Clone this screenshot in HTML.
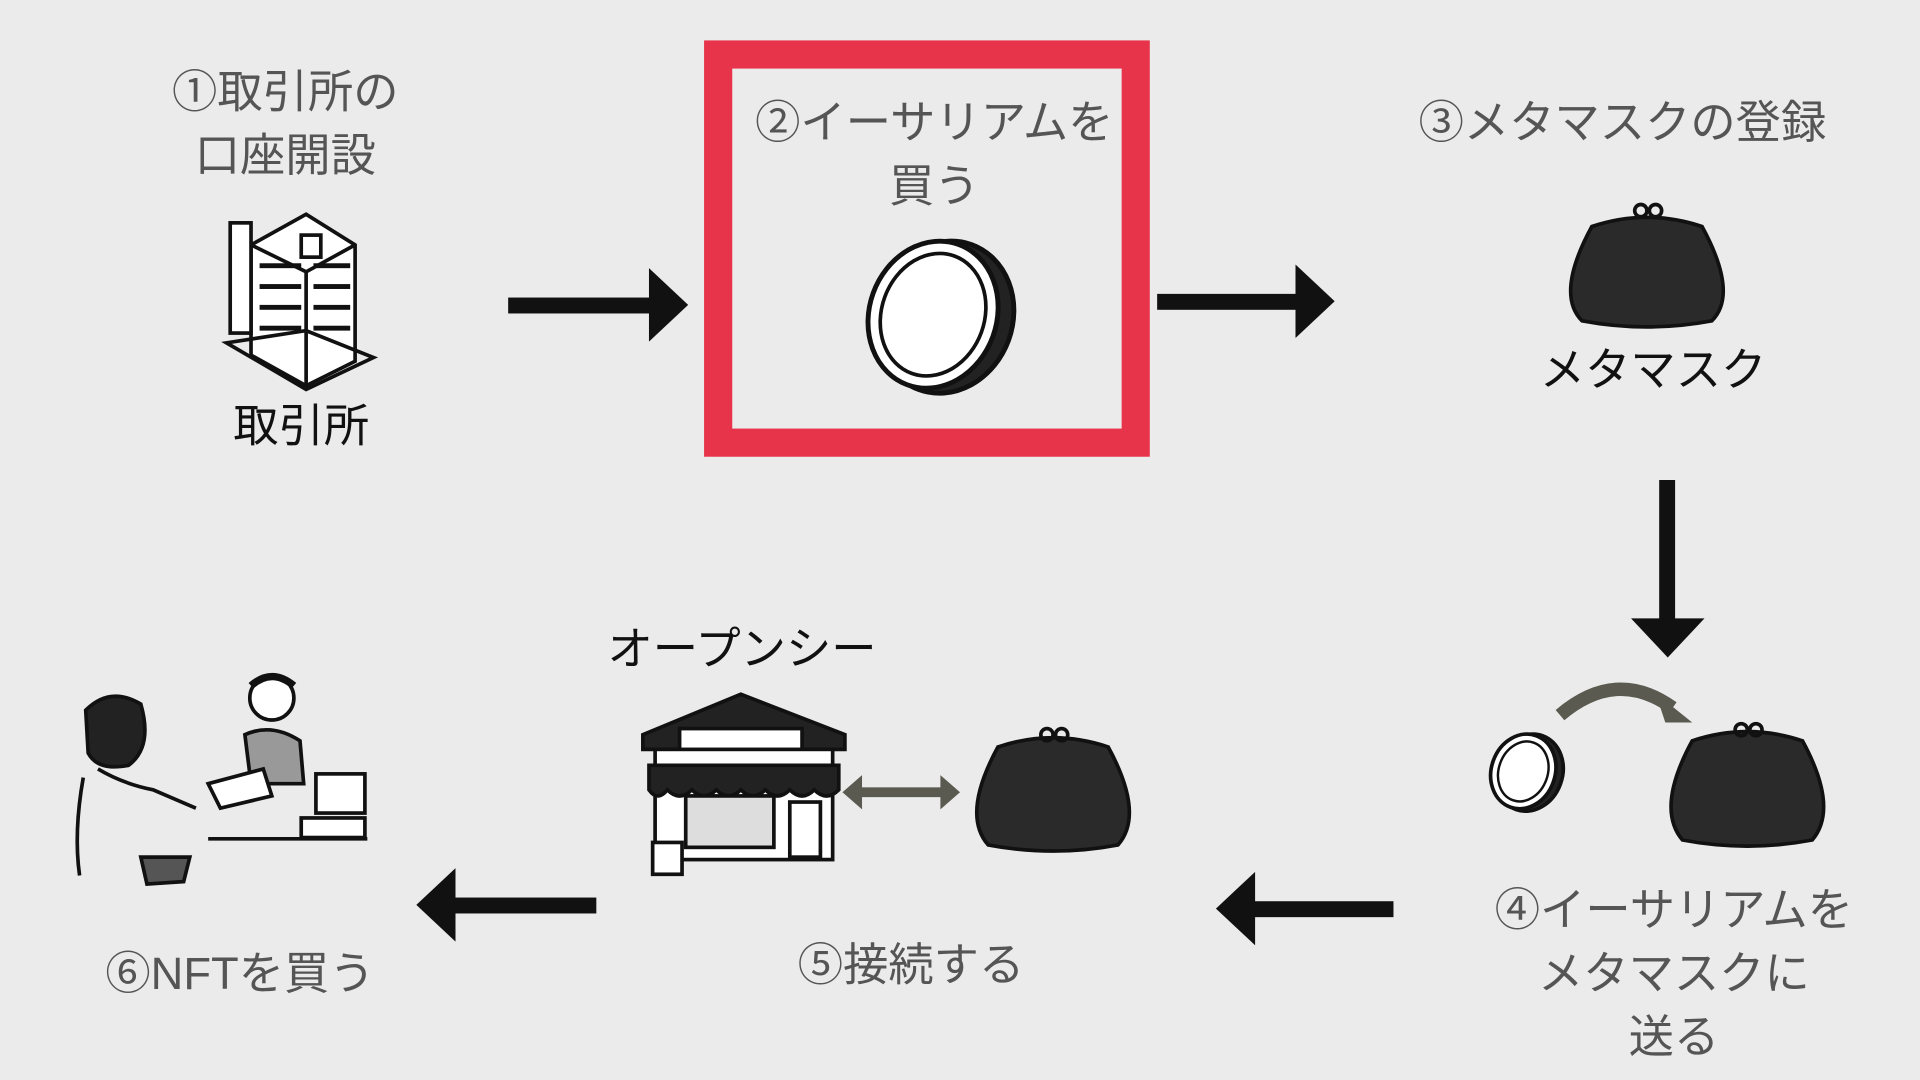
<!DOCTYPE html>
<html><head><meta charset="utf-8">
<style>
html,body{margin:0;padding:0;background:#ebebeb;}
svg{display:block;}
text{font-family:"Liberation Sans","Noto Sans CJK JP",sans-serif;}
.g{fill:#555;font-size:37px;font-weight:normal;}
.b{fill:#111;font-size:37px;font-weight:normal;}
</style></head><body>
<svg width="1920" height="1080" viewBox="0 0 1568 882" xmlns="http://www.w3.org/2000/svg">
<rect width="1568" height="882" fill="#ebebeb"/>
<rect x="586.5" y="44.5" width="341" height="317" fill="none" stroke="#e8344a" stroke-width="23"/>

<g text-anchor="middle" dominant-baseline="central">
<text class="g" x="233" y="75">①取引所の</text>
<text class="g" x="233" y="127">口座開設</text>
<text class="b" x="246" y="348">取引所</text>
<text class="g" x="763" y="100">②イーサリアムを</text>
<text class="g" x="763" y="152">買う</text>
<text class="g" x="1325" y="100">③メタマスクの登録</text>
<text class="b" x="1350" y="302">メタマスク</text>
<text class="b" x="606" y="530">オープンシー</text>
<text class="g" x="744" y="788">⑤接続する</text>
<text class="g" x="196" y="795">⑥NFTを買う</text>
<text class="g" x="1367" y="743">④イーサリアムを</text>
<text class="g" x="1367" y="795">メタマスクに</text>
<text class="g" x="1367" y="847">送る</text>
</g>

<g fill="#111">
<rect x="415" y="243" width="120" height="13"/><polygon points="530,219 562,249 530,279"/>
<rect x="945" y="240" width="118" height="13"/><polygon points="1058,216 1090,246 1058,276"/>
<rect x="1355" y="392" width="13" height="116"/><polygon points="1332,505 1392,505 1362,537"/>
<rect x="1020" y="736" width="118" height="13"/><polygon points="1025,712 993,742 1025,772"/>
<rect x="368" y="733" width="119" height="13"/><polygon points="372,709 340,739 372,769"/>
</g>
<g fill="#5a5a50">
<rect x="700" y="643" width="72" height="8"/>
<polygon points="704,633 688,647 704,661"/><polygon points="768,633 784,647 768,661"/>
</g>
<path d="M1274,584 Q1320,545 1366,578" fill="none" stroke="#5a5a50" stroke-width="11"/>
<polygon points="1352,566 1382,590 1360,590" fill="#5a5a50"/>

<g fill="#fff" stroke="#111" stroke-width="4">
<ellipse cx="772" cy="259" rx="55" ry="63" transform="rotate(20 772 259)" fill="#222"/>
<ellipse cx="762" cy="257" rx="52" ry="61" transform="rotate(20 762 257)"/>
<ellipse cx="762" cy="257" rx="42" ry="51" transform="rotate(20 762 257)" stroke-width="3"/>
</g>
<g fill="#fff" stroke="#111" stroke-width="3">
<ellipse cx="1249" cy="631" rx="27" ry="32" transform="rotate(20 1249 631)" fill="#222"/>
<ellipse cx="1244" cy="630" rx="26" ry="31" transform="rotate(20 1244 630)"/>
<ellipse cx="1244" cy="630" rx="20" ry="25" transform="rotate(20 1244 630)" stroke-width="2"/>
</g>

<g fill="#2a2a2a" stroke="#111" stroke-width="3">
<path d="M1300,185 Q1345,170 1390,185 Q1420,240 1398,262 Q1345,272 1292,262 Q1270,240 1300,185Z"/>
<circle cx="1340" cy="172" r="5" fill="none"/><circle cx="1352" cy="172" r="5" fill="none"/>
<path d="M815,610 Q860,595 905,610 Q935,665 913,690 Q860,700 807,690 Q785,665 815,610Z"/>
<circle cx="855" cy="600" r="5" fill="none"/><circle cx="867" cy="600" r="5" fill="none"/>
<path d="M1382,605 Q1427,590 1472,605 Q1502,660 1480,686 Q1427,696 1374,686 Q1352,660 1382,605Z"/>
<circle cx="1422" cy="596" r="5" fill="none"/><circle cx="1434" cy="596" r="5" fill="none"/>
</g>

<g fill="#fff" stroke="#111" stroke-width="3">
<polygon points="205,200 250,175 290,200 290,295 250,315 205,290"/>
<polyline points="205,200 250,222 290,200" fill="none"/>
<line x1="250" y1="222" x2="250" y2="315"/>
<rect x="188" y="182" width="17" height="90"/>
<polygon points="185,280 250,318 305,292 250,270" fill="none"/>
<rect x="246" y="192" width="16" height="18"/>
</g>
<g fill="#111">
<rect x="212" y="215" width="34" height="4"/><rect x="212" y="232" width="34" height="4"/><rect x="212" y="249" width="34" height="4"/><rect x="212" y="266" width="34" height="4"/>
<rect x="256" y="215" width="30" height="4"/><rect x="256" y="232" width="30" height="4"/><rect x="256" y="249" width="30" height="4"/><rect x="256" y="266" width="30" height="4"/>
</g>

<g fill="#fff" stroke="#111" stroke-width="3">
<polygon points="525,600 605,567 690,600 690,612 525,612" fill="#222"/>
<rect x="555" y="595" width="100" height="18"/>
<rect x="535" y="612" width="145" height="90"/>
<path d="M530,625 L685,625 L685,645 Q675,655 665,645 Q655,655 645,645 Q635,655 625,645 Q615,655 605,645 Q595,655 585,645 Q575,655 565,645 Q555,655 545,645 Q537,655 530,645Z" fill="#222"/>
<rect x="560" y="650" width="72" height="42" fill="#ddd"/>
<rect x="645" y="655" width="25" height="45"/>
<rect x="533" y="688" width="24" height="26"/>
</g>

<g fill="none" stroke="#111" stroke-width="3">
<path d="M70,580 Q90,560 115,575 Q125,610 105,625 Q80,630 72,615Z" fill="#222"/>
<path d="M68,635 Q60,680 65,715"/><path d="M80,628 Q100,640 125,645 L160,660"/>
<path d="M115,700 L155,700 L150,720 L120,722Z" fill="#555"/>
<circle cx="222" cy="570" r="18" fill="#fff"/><path d="M205,560 Q222,545 240,560" stroke-width="6"/>
<path d="M200,600 Q222,590 245,605 L248,640 L205,640Z" fill="#999"/>
<path d="M170,640 L215,628 L222,650 L180,660Z" fill="#fff"/>
<rect x="258" y="632" width="40" height="32" fill="#fff"/><rect x="246" y="668" width="52" height="16" fill="#fff"/>
<line x1="170" y1="685" x2="300" y2="685"/>
</g>
</svg>
</body></html>
